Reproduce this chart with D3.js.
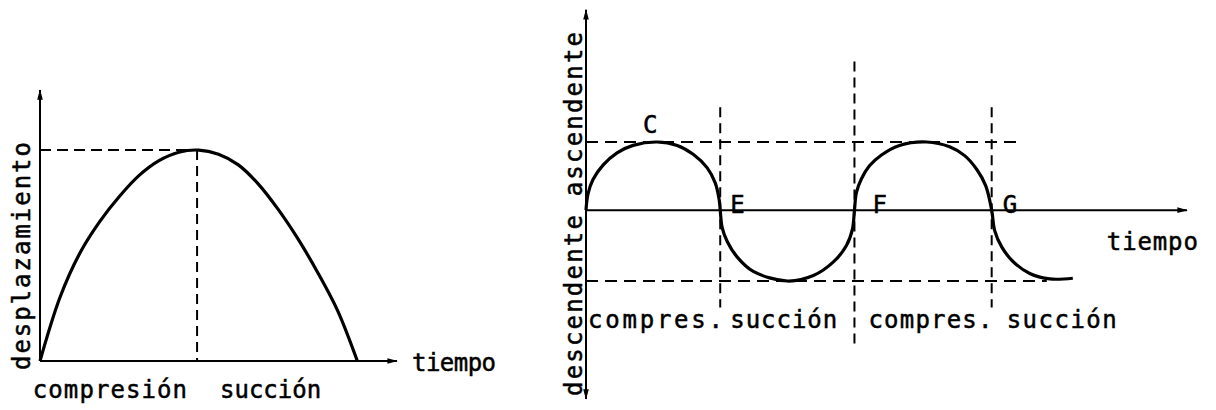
<!DOCTYPE html>
<html>
<head>
<meta charset="utf-8">
<script src="https://d3js.org/d3.v7.min.js"></script>
<style>
  body { margin: 0; background: #fff; }
  text { font-family: "DejaVu Sans Mono", monospace; font-size: 24px; fill: #000; stroke: #000; stroke-width: 0.5px; }
</style>
</head>
<body>
<div id="my_dataviz"></div>
<script>
// ---- data ----
// left: displacement over one stroke
var leftTime = [0, 0.5, 1, 1.5, 2, 2.5, 3, 3.5, 4, 4.5, 5, 5.5, 6, 6.5, 7, 7.5, 8];
var leftDisp = [0, 0.30, 0.51, 0.66, 0.78, 0.88, 0.95, 0.99, 1, 0.98, 0.93, 0.84, 0.72, 0.58, 0.42, 0.24, 0];
var leftPeak = {t: 3.96, v: 1};
var leftPhases = ["compresión", "succión"];
var leftPhaseT = [-0.18, 4.54];

// right: ascending / descending over two cycles
var rightTime = [0, 0.2, 0.7, 1.7, 3.1, 4.7, 7.1, 9.1, 10.7, 12.1, 12.9, 13.3, 13.4,
  13.6, 14.1, 15.1, 16.7, 20.1, 22.7, 24.7, 26.0, 26.6, 26.8,
  27.0, 27.5, 28.3, 29.5, 31.3, 34.0, 36.3, 37.8, 39.0, 39.9, 40.5,
  40.8, 41.5, 42.6, 44.3, 46.3, 48.6];
var rightVal = [0, 0.24, 0.45, 0.66, 0.84, 0.95, 1, 0.95, 0.82, 0.62, 0.40, 0.15, 0,
  -0.26, -0.46, -0.69, -0.90, -1.04, -0.96, -0.76, -0.52, -0.28, 0,
  0.26, 0.46, 0.65, 0.81, 0.95, 1, 0.93, 0.80, 0.60, 0.36, 0,
  -0.30, -0.54, -0.75, -0.93, -1.01, -1.0];
var crossings = [13.4, 26.8, 40.5];
var crossTop = [1.51, 2.18, 1.51];
var crossBottom = [-1.43, -2.01, -1.43];
var crossNames = ["E", "F", "G"];
var crossNameT = [14.4, 28.6, 41.6];
var peakC = {t: 7.1, v: 1};
var levels = [1, -1.04];
var levelEnd = [43, 46];
var rightPhases = ["compres.", "succión", "compres.", "succión"];
var rightPhaseT = [0.2, 14.4, 28.2, 42.0];

var svg = d3.select("#my_dataviz")
  .append("svg")
    .attr("width", 1216)
    .attr("height", 410);

svg.append("defs").append("marker")
    .attr("id", "arrow")
    .attr("viewBox", "0 -4 12 8")
    .attr("refX", 11)
    .attr("refY", 0)
    .attr("markerUnits", "userSpaceOnUse")
    .attr("markerWidth", 13)
    .attr("markerHeight", 7)
    .attr("orient", "auto-start-reverse")
  .append("path")
    .attr("d", "M0,-3.2L12,0L0,3.2Z")
    .attr("fill", "#000");

// ================= left chart =================
var xL = d3.scaleLinear().domain([0, 9]).range([40, 397]);
var yL = d3.scaleLinear().domain([0, 1.285]).range([361, 90]);

// axes
svg.append("line")
  .attr("x1", xL(0)).attr("y1", yL(0)).attr("x2", xL(0)).attr("y2", yL(1.285))
  .attr("stroke", "#000").attr("stroke-width", 2).attr("marker-end", "url(#arrow)");
svg.append("line")
  .attr("x1", xL(0)).attr("y1", yL(0)).attr("x2", xL(9)).attr("y2", yL(0))
  .attr("stroke", "#000").attr("stroke-width", 2).attr("marker-end", "url(#arrow)");

// peak guides
svg.append("line")
  .attr("x1", xL(0)).attr("y1", yL(leftPeak.v)).attr("x2", xL(leftPeak.t)).attr("y2", yL(leftPeak.v))
  .attr("stroke", "#000").attr("stroke-width", 2).attr("stroke-dasharray", "11,6");
svg.append("line")
  .attr("x1", xL(leftPeak.t)).attr("y1", yL(leftPeak.v)).attr("x2", xL(leftPeak.t)).attr("y2", yL(0))
  .attr("stroke", "#000").attr("stroke-width", 2).attr("stroke-dasharray", "10,6");

// curve
svg.append("path")
  .datum(d3.range(leftTime.length))
  .attr("fill", "none")
  .attr("stroke", "#000")
  .attr("stroke-width", 3.2)
  .attr("d", d3.line()
    .x(function(i) { return xL(leftTime[i]) })
    .y(function(i) { return yL(leftDisp[i]) })
    .curve(d3.curveCatmullRom));

svg.append("text")
  .attr("transform", "translate(30," + (yL(0) + 9) + ") rotate(-90)")
  .attr("textLength", 228).attr("lengthAdjust", "spacing")
  .text("desplazamiento");
svg.append("text")
  .attr("x", xL(9) + 15).attr("y", yL(0) + 10)
  .attr("textLength", 84).attr("lengthAdjust", "spacing")
  .text("tiempo");
svg.selectAll(".lphase")
  .data(leftPhases)
  .enter().append("text")
    .attr("class", "lphase")
    .attr("x", function(d, i) { return xL(leftPhaseT[i]); })
    .attr("y", 398)
    .attr("textLength", function(d, i) { return i == 0 ? 154 : 101; })
    .attr("lengthAdjust", "spacing")
    .text(function(d) { return d; });

// ================= right chart =================
var xR = d3.scaleLinear().domain([0, 60]).range([586, 1187]);
var yR = d3.scaleLinear().domain([-1.04, 1]).range([281, 142]);

// axes
svg.append("line")
  .attr("x1", xR(0)).attr("y1", yR(-2.77)).attr("x2", xR(0)).attr("y2", yR(2.94))
  .attr("stroke", "#000").attr("stroke-width", 2)
  .attr("marker-start", "url(#arrow)").attr("marker-end", "url(#arrow)");
svg.append("line")
  .attr("x1", xR(0)).attr("y1", yR(0)).attr("x2", xR(60)).attr("y2", yR(0))
  .attr("stroke", "#000").attr("stroke-width", 2).attr("marker-end", "url(#arrow)");

// level guides
svg.selectAll(".level")
  .data(levels)
  .enter().append("line")
    .attr("class", "level")
    .attr("x1", xR(0))
    .attr("x2", function(d, i) { return xR(levelEnd[i]); })
    .attr("y1", function(d) { return yR(d); })
    .attr("y2", function(d) { return yR(d); })
    .attr("stroke", "#000").attr("stroke-width", 2).attr("stroke-dasharray", "12,7");

// phase dividers
svg.selectAll(".divider")
  .data(crossings)
  .enter().append("line")
    .attr("class", "divider")
    .attr("x1", function(d) { return xR(d); })
    .attr("x2", function(d) { return xR(d); })
    .attr("y1", function(d, i) { return yR(crossTop[i]); })
    .attr("y2", function(d, i) { return yR(crossBottom[i]); })
    .attr("stroke", "#000").attr("stroke-width", 2).attr("stroke-dasharray", "10,6");

// curve
svg.append("path")
  .datum(d3.range(rightTime.length))
  .attr("fill", "none")
  .attr("stroke", "#000")
  .attr("stroke-width", 3.2)
  .attr("d", d3.line()
    .x(function(i) { return xR(rightTime[i]) })
    .y(function(i) { return yR(rightVal[i]) })
    .curve(d3.curveCatmullRom));

// point labels
svg.append("text")
  .attr("x", xR(peakC.t) - 7).attr("y", yR(peakC.v) - 9)
  .attr("text-anchor", "middle")
  .text("C");
svg.selectAll(".cross")
  .data(crossNames)
  .enter().append("text")
    .attr("class", "cross")
    .attr("x", function(d, i) { return xR(crossNameT[i]); })
    .attr("y", yR(0) + 3)
    .text(function(d) { return d; });

svg.append("text")
  .attr("transform", "translate(582,396) rotate(-90)")
  .attr("textLength", 364).attr("lengthAdjust", "spacing")
  .text("descendente ascendente");
svg.append("text")
  .attr("x", xR(52)).attr("y", yR(-0.59))
  .attr("textLength", 91).attr("lengthAdjust", "spacing")
  .text("tiempo");
svg.selectAll(".rphase")
  .data(rightPhases)
  .enter().append("text")
    .attr("class", "rphase")
    .attr("x", function(d, i) { return xR(rightPhaseT[i]); })
    .attr("y", 328)
    .attr("textLength", function(d, i) { return [135, 107, 124, 110][i]; })
    .attr("lengthAdjust", "spacing")
    .text(function(d) { return d; });
</script>
</body>
</html>
